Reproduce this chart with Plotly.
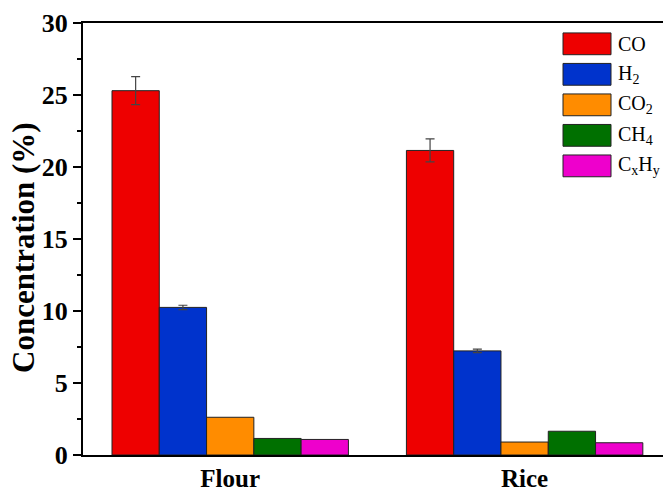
import plotly.graph_objects as go

# Feedstocks and gas species
feedstocks = ["Flour", "Rice"]
species = ["CO", "H<sub>2</sub>", "CO<sub>2</sub>", "CH<sub>4</sub>", "C<sub>x</sub>H<sub>y</sub>"]

# Concentration (%) per species, ordered as feedstocks
co = [25.3, 21.15]
h2 = [10.25, 7.23]
co2 = [2.62, 0.90]
ch4 = [1.15, 1.65]
cxhy = [1.08, 0.85]

# Error bar half-widths (None = no error bar drawn)
co_err = [0.97, 0.80]
h2_err = [0.15, 0.12]

series = [co, h2, co2, ch4, cxhy]
errors = [co_err, h2_err, None, None, None]
colors = ["#EE0000", "#0033CC", "#FF8C00", "#007000", "#EE00CC"]

W, H = 663, 492
ML, MR, MT, MB = 83, 0, 23, 33
FONT = "Liberation Serif, Times New Roman, serif"

fig = go.Figure()
for name, vals, err, col in zip(species, series, errors, colors):
    kw = {}
    if err is not None:
        kw["error_y"] = dict(type="data", array=err, visible=True,
                             color="#444444", thickness=1.2, width=4.5)
    fig.add_trace(go.Bar(
        x=feedstocks, y=vals, name=name,
        marker=dict(color=col, line=dict(color="#222222", width=1)),
        showlegend=False, **kw))

# Legend drawn as boxes + labels (pixel layout converted to paper coords)
pw = W - ML - MR
ph = H - MT - MB
def px_x(px):
    return (px - ML) / pw
def px_y(py):
    return (H - MB - py) / ph

shapes = []
annotations = []
box_x0, box_x1 = 563, 611
row_top = 33
row_h = 22
row_step = 30.8
for i, (name, col) in enumerate(zip(species, colors)):
    y0 = row_top + i * row_step
    y1 = y0 + row_h
    shapes.append(dict(type="rect", xref="paper", yref="paper",
                       x0=px_x(box_x0), x1=px_x(box_x1),
                       y0=px_y(y1), y1=px_y(y0),
                       fillcolor=col, line=dict(color="#222222", width=1)))
    annotations.append(dict(xref="paper", yref="paper",
                            x=px_x(616), y=px_y((y0 + y1) / 2),
                            xanchor="left", yanchor="middle", showarrow=False,
                            text=name, font=dict(family=FONT, size=20, color="black")))

# Y-axis title placed as rotated text
annotations.append(dict(xref="paper", yref="paper",
                        x=px_x(24), y=px_y(250),
                        xanchor="center", yanchor="middle", showarrow=False,
                        textangle=-90, text="<b>Concentration (%)</b>",
                        font=dict(family=FONT, size=31, color="black")))

fig.update_layout(
    width=W, height=H,
    margin=dict(l=ML, r=MR, t=MT, b=MB, pad=0),
    paper_bgcolor="white", plot_bgcolor="white",
    barmode="group", bargap=0.197, bargroupgap=0,
    shapes=shapes, annotations=annotations,
    font=dict(family=FONT, color="black"),
)
fig.update_xaxes(
    range=[-0.5, 1.47], showline=True, linecolor="black", linewidth=2,
    mirror=True, ticks="", showgrid=False, zeroline=False,
    tickfont=dict(family=FONT, size=25, weight="bold", color="black"),
)
fig.update_yaxes(
    range=[0, 30], dtick=5, showline=True, linecolor="black", linewidth=2,
    ticks="outside", ticklen=8, tickwidth=2, tickcolor="black",
    minor=dict(dtick=2.5, ticks="outside", ticklen=4, tickwidth=1.5, tickcolor="black"),
    showgrid=False, zeroline=False,
    tickfont=dict(family=FONT, size=26, weight="bold", color="black"),
)

fig.write_html("out.html")
